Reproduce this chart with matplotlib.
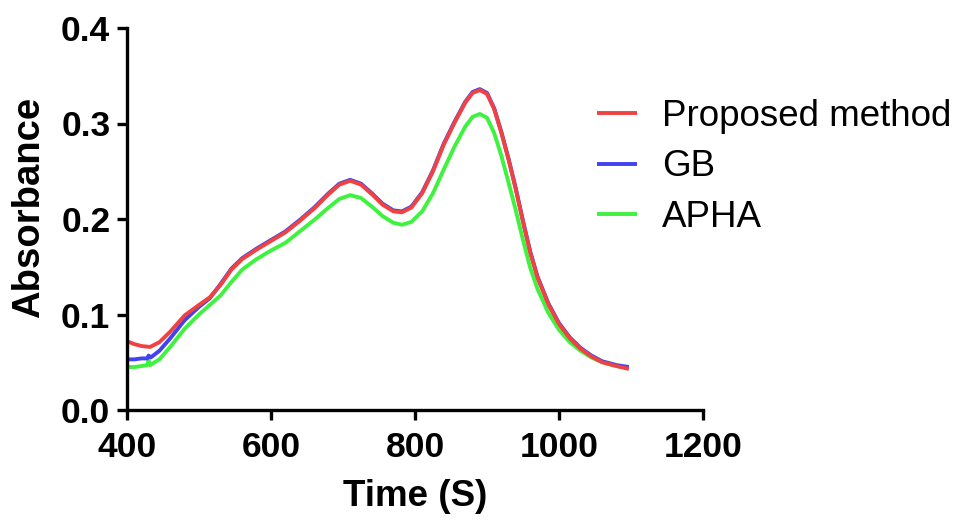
import matplotlib
matplotlib.use('Agg')
from matplotlib import pyplot as plt

# time (s) and absorbance
t_proposed = [400, 410, 420, 432, 445, 460, 480, 500, 515, 530, 545, 560, 580, 600,
              620, 640, 660, 680, 695, 710, 725, 740, 755, 770, 782, 795, 810, 825,
              840, 855, 870, 880, 890, 900, 910, 920, 930, 940, 950, 960, 970, 985,
              1000, 1015, 1030, 1045, 1060, 1080, 1097]
a_proposed = [0.072, 0.069, 0.067, 0.066, 0.071, 0.082, 0.099, 0.110, 0.118, 0.131,
              0.147, 0.158, 0.168, 0.177, 0.186, 0.198, 0.211, 0.226, 0.236, 0.240,
              0.236, 0.226, 0.215, 0.208, 0.207, 0.212, 0.227, 0.250, 0.278, 0.301,
              0.322, 0.332, 0.335, 0.331, 0.315, 0.290, 0.262, 0.231, 0.197, 0.165,
              0.139, 0.111, 0.090, 0.075, 0.064, 0.056, 0.050, 0.046, 0.043]

t_gb = [400, 410, 420, 428, 430, 433, 445, 460, 480, 500, 515, 530, 545, 560, 580,
        600, 620, 640, 660, 680, 695, 710, 725, 740, 755, 770, 782, 795, 810, 825,
        840, 855, 870, 880, 890, 900, 910, 920, 930, 940, 950, 960, 970, 985, 1000,
        1015, 1030, 1045, 1060, 1080, 1097]
a_gb = [0.053, 0.053, 0.054, 0.054, 0.057, 0.055, 0.062, 0.075, 0.094, 0.108, 0.117,
        0.132, 0.148, 0.159, 0.169, 0.178, 0.187, 0.199, 0.212, 0.227, 0.237, 0.241,
        0.237, 0.227, 0.216, 0.209, 0.208, 0.213, 0.228, 0.251, 0.279, 0.302, 0.323,
        0.333, 0.336, 0.332, 0.316, 0.291, 0.263, 0.232, 0.198, 0.166, 0.140, 0.112,
        0.091, 0.076, 0.065, 0.057, 0.051, 0.047, 0.045]

t_apha = [400, 410, 420, 428, 430, 432, 445, 460, 480, 500, 515, 530, 545, 560, 580,
          600, 620, 640, 660, 680, 695, 710, 725, 740, 755, 770, 782, 795, 810, 825,
          840, 855, 870, 880, 890, 900, 910, 920, 930, 940, 950, 960, 970, 985, 1000,
          1015, 1030, 1045, 1060, 1080, 1097]
a_apha = [0.045, 0.045, 0.046, 0.047, 0.052, 0.047, 0.053, 0.066, 0.085, 0.100, 0.110,
          0.120, 0.134, 0.147, 0.158, 0.167, 0.175, 0.187, 0.199, 0.212, 0.221, 0.225,
          0.222, 0.213, 0.203, 0.196, 0.194, 0.197, 0.208, 0.227, 0.252, 0.276, 0.297,
          0.307, 0.310, 0.306, 0.290, 0.266, 0.238, 0.209, 0.178, 0.149, 0.127, 0.102,
          0.084, 0.071, 0.062, 0.055, 0.050, 0.046, 0.044]

x_ticks = [400, 600, 800, 1000, 1200]
y_ticks = [0.0, 0.1, 0.2, 0.3, 0.4]

plt.rcParams['font.family'] = ['Liberation Sans', 'DejaVu Sans']

fig = plt.figure(figsize=(9.59, 5.25), dpi=100)
ax = fig.add_axes([127 / 959, 1 - 410 / 525, (703 - 127) / 959, (410 - 28) / 525])

lw = 2.8
l_apha, = ax.plot(t_apha, a_apha, color='#3ff23f', lw=lw, solid_capstyle='butt')
l_gb, = ax.plot(t_gb, a_gb, color='#4242f0', lw=lw, solid_capstyle='butt')
l_prop, = ax.plot(t_proposed, a_proposed, color='#f04242', lw=lw, solid_capstyle='butt')

ax.set_xlim(400, 1200)
ax.set_ylim(0, 0.4)
ax.set_xticks(x_ticks)
ax.set_yticks(y_ticks)
ax.set_xticklabels([str(v) for v in x_ticks])
ax.set_yticklabels([f'{v:.1f}' for v in y_ticks])

for s in ['top', 'right']:
    ax.spines[s].set_visible(False)
for s in ['left', 'bottom']:
    ax.spines[s].set_linewidth(2.4)
ax.tick_params(width=2.4, length=7, direction='out', labelsize=25.5)
ax.tick_params(axis='x', pad=8)
ax.tick_params(axis='y', pad=5)
for lab in ax.get_xticklabels() + ax.get_yticklabels():
    lab.set_fontweight('bold')

ax.set_xlabel('Time (S)', fontsize=26.5, fontweight='bold')
ax.set_ylabel('Absorbance', fontsize=27.5, fontweight='bold')
ax.xaxis.set_label_coords(0.5, -(497 - 410) / 382, transform=ax.transAxes)
ax.xaxis.label.set_va('center')
ax.yaxis.set_label_coords(-(127 - 29) / 576, (410 - 207) / 382, transform=ax.transAxes)
ax.yaxis.label.set_va('center')

fig.legend([l_prop, l_gb, l_apha], ['Proposed method', 'GB', 'APHA'],
           loc='upper left', bbox_to_anchor=(597 / 959, 1 - 99 / 525),
           frameon=False, fontsize=26.5, handlelength=1.1, handletextpad=0.66,
           labelspacing=0.42, borderpad=0, borderaxespad=0)

fig.savefig('out.png', dpi=100)
